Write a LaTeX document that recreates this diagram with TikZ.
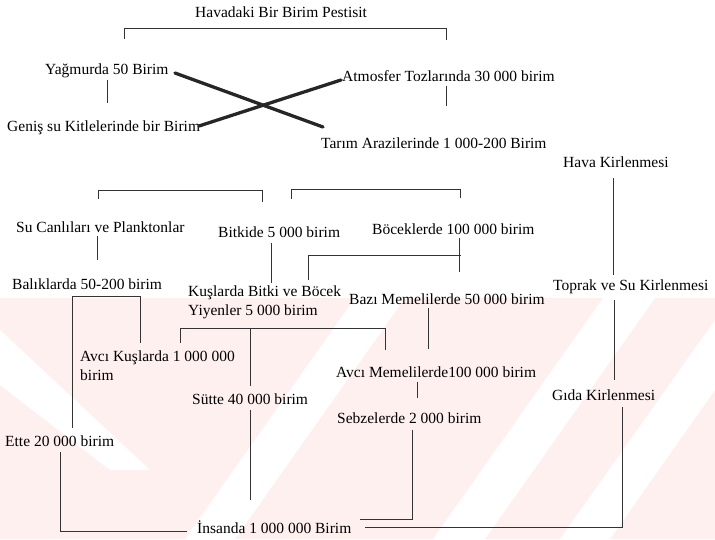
\documentclass[tikz,border=0pt]{standalone}
\usepackage{fontspec}
\setmainfont{Liberation Serif}
\begin{document}
\begin{tikzpicture}[x=1pt,y=-1pt,
  lbl/.style={anchor=west,inner sep=0pt,text=black,font=\fontsize{15.5}{19}\selectfont},
  conn/.style={draw=black!80,line width=0.9pt},
  thick cross/.style={draw=black!85,line width=3.3pt,line cap=round}]
\useasboundingbox (0,0) rectangle (715,539);
% watermark background
\fill[red!6!white] (0,298) rectangle (715,539);
\fill[white] (185,539) -- (235,539) -- (405,298) -- (355,298) -- cycle;
\fill[white] (433,539) -- (485,539) -- (655,298) -- (603,298) -- cycle;
\fill[white] (560,539) -- (610,539) -- (715,390) -- (715,320) -- cycle;
\fill[white] (0,330) -- (0,385) -- (110,470) -- (150,470) -- cycle;
% texts
\node[lbl] (hava) at (195,12) {Havadaki Bir Birim Pestisit};
\node[lbl] (yag) at (45,71) {Yağmurda 50 Birim};
\node[lbl] (atm) at (342,76) {Atmosfer Tozlarında 30 000 birim};
\node[lbl] (gen) at (7,128) {Geniş su Kitlelerinde bir Birim};
\node[lbl] (tar) at (321,143) {Tarım Arazilerinde 1 000-200 Birim};
\node[lbl] (havak) at (563,162) {Hava Kirlenmesi};
\node[lbl] (su) at (16,227) {Su Canlıları ve Planktonlar};
\node[lbl] (bit) at (218,232) {Bitkide 5 000 birim};
\node[lbl] (boc) at (372,229) {Böceklerde 100 000 birim};
\node[lbl] (bal) at (12,284) {Balıklarda 50-200 birim};
\node[lbl,align=left] (kus) at (188,302) {Kuşlarda Bitki ve Böcek\\Yiyenler 5 000 birim};
\node[lbl] (baz) at (349,299) {Bazı Memelilerde 50 000 birim};
\node[lbl] (topr) at (553,287) {Toprak ve Su Kirlenmesi};
\node[lbl,align=left] (avk) at (80,366) {Avcı Kuşlarda 1 000 000\\birim};
\node[lbl] (avm) at (336,372) {Avcı Memelilerde100 000 birim};
\node[lbl] (gida) at (552,395) {Gıda Kirlenmesi};
\node[lbl] (sut) at (192,399) {Sütte 40 000 birim};
\node[lbl] (seb) at (337,418) {Sebzelerde 2 000 birim};
\node[lbl] (ette) at (5,441) {Ette 20 000 birim};
\node[lbl] (ins) at (197,527) {İnsanda 1 000 000 Birim};
% named points
\coordinate (tb1) at (124,39); \coordinate (tb2) at (124,28);
\coordinate (tb3) at (446,28); \coordinate (tb4) at (446,40);
\coordinate (yg1) at (107,80); \coordinate (yg2) at (107,103);
\coordinate (at1) at (446,86); \coordinate (at2) at (446,106);
\coordinate (x1a) at (175,73); \coordinate (x1b) at (323,127);
\coordinate (x2a) at (199,126); \coordinate (x2b) at (341,80);
\coordinate (b2a) at (98,199); \coordinate (b2b) at (98,190);
\coordinate (b2c) at (262,190); \coordinate (b2d) at (262,202);
\coordinate (b3a) at (291,199); \coordinate (b3b) at (291,189);
\coordinate (b3c) at (460,189); \coordinate (b3d) at (460,198);
\coordinate (sb1) at (97,236); \coordinate (sb2) at (97,260);
\coordinate (bk1) at (271,243); \coordinate (bk2) at (271,283);
\coordinate (bc1) at (308,280); \coordinate (bc2) at (308,255);
\coordinate (bc3) at (461,255);
\coordinate (bc4) at (459,238); \coordinate (bc5) at (459,272);
\coordinate (ht1) at (613,178); \coordinate (ht2) at (613,275);
\coordinate (tg1) at (614,300); \coordinate (tg2) at (614,380);
\coordinate (bl1) at (72,428); \coordinate (bl2) at (72,296);
\coordinate (bl3) at (140,296); \coordinate (bl4) at (140,343);
\coordinate (ak1) at (180,343); \coordinate (ak2) at (180,328);
\coordinate (ak3) at (385,328); \coordinate (ak4) at (385,350);
\coordinate (st1) at (250,328); \coordinate (st2) at (250,386);
\coordinate (st3) at (250,410); \coordinate (st4) at (250,500);
\coordinate (bm1) at (428,308); \coordinate (bm2) at (428,349);
\coordinate (ms1) at (417,382); \coordinate (ms2) at (417,398);
\coordinate (si1) at (412,430); \coordinate (si2) at (412,519);
\coordinate (si3) at (360,519);
\coordinate (ei1) at (60,452); \coordinate (ei2) at (60,531);
\coordinate (ei3) at (187,531);
\coordinate (gi1) at (622,407); \coordinate (gi2) at (622,527);
\coordinate (gi3) at (365,527);
% connectors
\draw[conn] (tb1) -- (tb2) -- (tb3) -- (tb4);
\draw[conn] (yg1) -- (yg2);
\draw[conn] (at1) -- (at2);
\draw[thick cross] (x1a) -- (x1b);
\draw[thick cross] (x2a) -- (x2b);
\draw[conn] (b2a) -- (b2b) -- (b2c) -- (b2d);
\draw[conn] (b3a) -- (b3b) -- (b3c) -- (b3d);
\draw[conn] (sb1) -- (sb2);
\draw[conn] (bk1) -- (bk2);
\draw[conn] (bc1) -- (bc2) -- (bc3);
\draw[conn] (bc4) -- (bc5);
\draw[conn] (ht1) -- (ht2);
\draw[conn] (tg1) -- (tg2);
\draw[conn] (bl1) -- (bl2) -- (bl3) -- (bl4);
\draw[conn] (ak1) -- (ak2) -- (ak3) -- (ak4);
\draw[conn] (st1) -- (st2);
\draw[conn] (st3) -- (st4);
\draw[conn] (bm1) -- (bm2);
\draw[conn] (ms1) -- (ms2);
\draw[conn] (si1) -- (si2) -- (si3);
\draw[conn] (ei1) -- (ei2) -- (ei3);
\draw[conn] (gi1) -- (gi2) -- (gi3);
\end{tikzpicture}
\end{document}
